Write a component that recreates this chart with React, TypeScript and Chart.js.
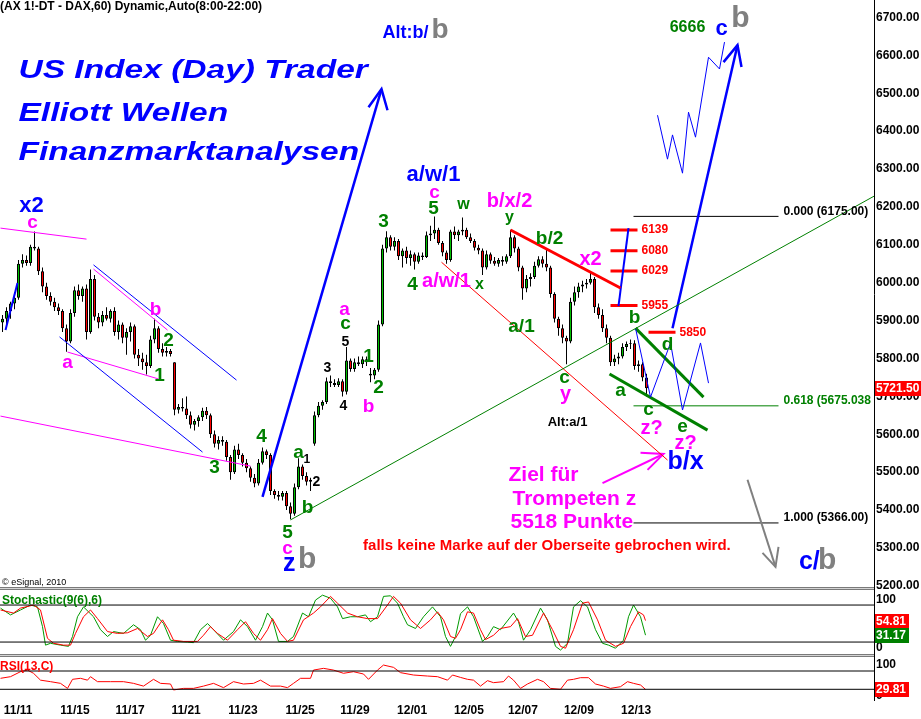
import React, { useEffect, useRef } from 'react';
import { Chart, registerables } from 'chart.js';

Chart.register(...registerables);

const FONT = '"Liberation Sans", Arial, Helvetica, sans-serif';

// ---------- price candles (one slot per candle, x = slot index + 0.5) ----------
const opens = [
  5895, 5905, 5925, 5945, 5960, 6050, 6060, 6052, 6095, 6090,
  6030, 5990, 5965, 5950, 5935, 5925, 5880, 5845, 5920, 5980,
  5965, 5985, 5870, 6010, 5910, 5895, 5915, 5905, 5925, 5870,
  5890, 5855, 5870, 5885, 5810, 5800, 5790, 5780, 5850, 5880,
  5825, 5815, 5820, 5790, 5665, 5672, 5668, 5650, 5625, 5635,
  5645, 5662, 5650, 5600, 5575, 5585, 5580, 5540, 5500, 5560,
  5545, 5525, 5510, 5485, 5470, 5525, 5555, 5545, 5450, 5440,
  5435, 5445, 5410, 5390, 5460, 5515, 5490, 5475, 5575, 5650,
  5675, 5685, 5740, 5735, 5730, 5740, 5712, 5795, 5772, 5790,
  5785, 5798, 5760, 5755, 5770, 5890, 6090, 6120, 6095, 6110,
  6070, 6085, 6065, 6075, 6055, 6072, 6068, 6125, 6130, 6140,
  6105, 6080, 6060, 6135, 6125, 6135, 6140, 6120, 6110, 6092,
  6085, 6040, 6075, 6058, 6050, 6060, 6055, 6070, 6120, 6090,
  6040, 5985, 6010, 6015, 6045, 6062, 6050, 6040, 5970, 5905,
  5880, 5855, 5845, 5950, 5975, 5990, 5995, 6000, 6010, 5935,
  5915, 5880, 5855, 5790, 5800, 5805, 5830, 5838, 5840, 5780,
  5785, 5750,
];
const highs = [
  5915, 5935, 5950, 5975, 6060, 6075, 6072, 6100, 6135, 6095,
  6040, 6000, 5975, 5960, 5945, 5930, 5890, 5930, 5990, 5995,
  5990, 5995, 6035, 6020, 5920, 5925, 5935, 5930, 5935, 5900,
  5895, 5880, 5895, 5890, 5825, 5815, 5810, 5860, 5905, 5885,
  5840, 5830, 5825, 5790, 5680, 5695, 5700, 5660, 5640, 5650,
  5670, 5672, 5655, 5610, 5595, 5595, 5585, 5545, 5570, 5575,
  5550, 5535, 5515, 5495, 5535, 5565, 5560, 5550, 5455, 5450,
  5450, 5450, 5420, 5470, 5537, 5520, 5500, 5485, 5660, 5685,
  5690, 5750, 5755, 5745, 5748, 5745, 5830, 5800, 5800, 5805,
  5805, 5805, 5775, 5775, 5900, 6100, 6136, 6125, 6120, 6115,
  6090, 6095, 6085, 6080, 6080, 6080, 6135, 6150, 6175, 6145,
  6110, 6085, 6140, 6148, 6140, 6172, 6145, 6130, 6115, 6100,
  6090, 6085, 6080, 6068, 6065, 6070, 6075, 6140, 6125, 6095,
  6045, 6020, 6025, 6055, 6070, 6070, 6090, 6045, 5975, 5910,
  5890, 5860, 5960, 5990, 6000, 6005, 6010, 6028, 6015, 5945,
  5930, 5890, 5860, 5810, 5815, 5840, 5845, 5850, 5848, 5795,
  5790, 5760,
];
const lows = [
  5870, 5890, 5905, 5930, 5955, 6040, 6045, 6045, 6085, 6020,
  5975, 5955, 5940, 5925, 5915, 5870, 5818, 5840, 5910, 5955,
  5950, 5850, 5865, 5900, 5880, 5885, 5900, 5895, 5860, 5850,
  5840, 5810, 5845, 5800, 5780, 5770, 5758, 5775, 5840, 5815,
  5805, 5805, 5805, 5650, 5655, 5660, 5640, 5615, 5610, 5620,
  5635, 5640, 5590, 5565, 5560, 5570, 5530, 5480, 5495, 5535,
  5515, 5500, 5475, 5460, 5465, 5520, 5535, 5440, 5430, 5425,
  5425, 5400, 5376, 5385, 5455, 5480, 5465, 5450, 5570, 5645,
  5665, 5680, 5725, 5725, 5725, 5700, 5705, 5765, 5765, 5780,
  5775, 5780, 5737, 5745, 5765, 5885, 6080, 6085, 6085, 6060,
  6040, 6050, 6045, 6035, 6050, 6060, 6065, 6110, 6115, 6100,
  6070, 6050, 6055, 6115, 6110, 6125, 6115, 6105, 6085, 6075,
  6020, 6035, 6050, 6045, 6042, 6045, 6050, 6065, 6080, 6030,
  5955, 5975, 5990, 6010, 6040, 6040, 6030, 5960, 5895, 5860,
  5840, 5785, 5840, 5940, 5960, 5975, 5985, 5995, 5920, 5905,
  5870, 5840, 5780, 5780, 5785, 5800, 5820, 5825, 5770, 5765,
  5740, 5700,
];
const closes = [
  5905, 5925, 5945, 5960, 6050, 6060, 6052, 6095, 6090, 6030,
  5990, 5965, 5950, 5935, 5925, 5880, 5845, 5920, 5980, 5965,
  5985, 5870, 6010, 5910, 5895, 5915, 5905, 5925, 5870, 5890,
  5855, 5870, 5885, 5810, 5800, 5790, 5780, 5850, 5880, 5825,
  5815, 5820, 5812, 5665, 5672, 5668, 5650, 5625, 5635, 5645,
  5662, 5650, 5600, 5575, 5585, 5580, 5540, 5500, 5560, 5545,
  5525, 5510, 5485, 5470, 5525, 5555, 5545, 5450, 5440, 5435,
  5445, 5410, 5390, 5460, 5515, 5490, 5475, 5480, 5650, 5675,
  5685, 5740, 5735, 5730, 5740, 5712, 5795, 5772, 5790, 5785,
  5798, 5790, 5755, 5770, 5890, 6090, 6120, 6095, 6110, 6070,
  6085, 6065, 6075, 6055, 6072, 6068, 6125, 6130, 6140, 6105,
  6080, 6060, 6135, 6125, 6135, 6140, 6120, 6110, 6092, 6085,
  6040, 6075, 6058, 6050, 6060, 6055, 6070, 6120, 6090, 6040,
  5985, 6010, 6015, 6045, 6062, 6050, 6040, 5970, 5905, 5880,
  5855, 5845, 5950, 5975, 5990, 5995, 6000, 6010, 5935, 5915,
  5880, 5855, 5790, 5800, 5805, 5830, 5838, 5840, 5780, 5785,
  5750, 5721.5,
];

// ---------- x axis (date labels, in candle-slot units) ----------
const dateLabels = ['11/11', '11/15', '11/17', '11/21', '11/23', '11/25', '11/29', '12/01', '12/05', '12/07', '12/09', '12/13'];
const dateTickPos = [4.4, 18.6, 32.4, 46.4, 60.6, 74.9, 88.6, 102.9, 117.1, 130.6, 144.6, 158.9];

// ---------- Stochastic(9(6),6) ----------
const stochKx = [0, 2.5, 5, 7.5, 9.25, 10.5, 11.25, 12.5, 15, 17, 18, 19.25, 20.75, 22, 23.25, 25, 26.75, 28.25, 30.75, 33.25, 35, 36.25, 37.5, 39.25, 40.75, 42.5, 44.25, 46.75, 48.25, 50, 51.75, 53.25, 55.75, 58.25, 60, 61.75, 63.75, 65.5, 66.75, 68, 69.5, 71.75, 73.25, 75.5, 77, 78.75, 80.5, 82.5, 84.25, 85.5, 87.5, 89.25, 91.25, 92.5, 94.25, 95.75, 97.5, 99.25, 100.75, 101.75, 103.75, 105.75, 108, 110, 111.25, 112.5, 113.75, 115, 116.75, 118.25, 120.5, 121.75, 123.25, 125, 128.25, 129.5, 130.75, 132.5, 135, 136.75, 138.75, 140, 141.75, 143.25, 145, 146.75, 148.75, 150.5, 152, 153.75, 155.75, 157, 158.25, 160, 161.25];
const stochK = [75, 64, 72, 80, 77, 45, 15, 18, 15, 13, 29, 61, 77, 69, 61, 40, 29, 37, 34, 48, 40, 23, 31, 61, 50, 23, 21, 20, 19, 40, 50, 40, 23, 37, 56, 45, 23, 45, 67, 56, 21, 21, 29, 67, 61, 88, 96, 91, 77, 58, 61, 61, 64, 53, 61, 94, 95, 83, 61, 48, 42, 61, 77, 61, 29, 13, 29, 66, 77, 61, 21, 29, 45, 40, 67, 53, 23, 40, 75, 56, 13, 7, 18, 77, 87, 77, 40, 18, 15, 10, 23, 61, 80, 61, 31.17];
const stochDx = [0, 3.25, 5, 8.25, 10, 11.75, 13.25, 15.75, 17.5, 18.75, 20.75, 22.5, 24.25, 26.75, 29.25, 31.75, 34.25, 36.75, 38.25, 40.5, 42, 43.25, 45.75, 49.25, 50.75, 52.5, 54.25, 56.75, 59.25, 61.25, 63.25, 65, 66.75, 68, 70, 71.75, 73.25, 75.75, 78.25, 80, 82.5, 84.25, 86.75, 89.25, 91.75, 94.25, 96.75, 98.25, 100, 102.5, 105, 107.5, 109.25, 110.75, 112.5, 113.75, 115, 116.75, 118.25, 120, 121.25, 123.25, 125, 127.5, 129.25, 131.25, 133, 135.75, 138, 140, 141.25, 143.25, 145.5, 147, 149.25, 151.25, 153.75, 155.75, 157.5, 159.5, 160.75, 161.25];
const stochD = [72, 67, 75, 80, 72, 26, 18, 15, 15, 34, 61, 72, 58, 37, 34, 35, 42, 29, 34, 56, 40, 23, 21, 21, 31, 45, 34, 23, 40, 53, 34, 23, 40, 58, 34, 21, 23, 56, 67, 77, 94, 83, 67, 61, 58, 58, 80, 94, 83, 56, 42, 56, 69, 56, 29, 26, 40, 69, 67, 40, 24, 31, 42, 45, 58, 29, 31, 67, 40, 13, 10, 40, 83, 85, 56, 23, 13, 18, 45, 69, 64, 54.81];
const stochLevels = [80, 20];
const stochTicks = [0, 100];

// ---------- RSI(13,C) ----------
const rsiX = [0, 2.5, 5, 6.75, 8.25, 10, 12.5, 15, 16.75, 18, 20, 21.75, 22.5, 24.25, 27.5, 30.75, 33.25, 35.75, 38.25, 40, 42.5, 43.25, 45.75, 48.25, 50.75, 53.25, 55.75, 58.25, 60.75, 63.25, 65, 67.5, 70, 71.75, 73.25, 75, 77.5, 78.25, 80.75, 83.25, 85.75, 88.25, 90.75, 92, 94.25, 95.75, 98.25, 100, 103.25, 106.75, 109.25, 111.75, 113, 115, 116.75, 118.25, 120, 121.75, 123.25, 125.75, 127, 128.25, 130, 131.75, 134.25, 135.75, 137.5, 140, 141.75, 143.25, 145, 147, 148.75, 150.75, 152.5, 155, 156.75, 158.25, 160, 161.25];
const rsiVals = [54, 57.6, 68.5, 72, 65, 50, 46.7, 43, 32, 51.8, 54, 50, 57.6, 46.7, 46.7, 46.7, 43, 37, 51.8, 43, 41.6, 28.5, 32, 32, 37, 43, 33.6, 46.7, 41.6, 43, 50, 37, 37, 33.6, 43, 54, 54, 72, 75.8, 72, 65, 68.5, 63.4, 51.8, 72, 83, 78, 66.4, 61.2, 59, 57.6, 50, 61.2, 56, 51.8, 50, 37, 48.9, 44.5, 46.7, 59, 50, 32, 41.6, 51.8, 46.7, 32, 30, 50, 51.8, 55.4, 55.4, 41.6, 37, 32, 35.7, 46.7, 43, 39.4, 29.81];
const rsiLevels = [70, 30];
const rsiTicks = [0, 100];

// ---------- analysis overlays (data coordinates: slot, price) ----------
const guideLines: { pts: number[][]; style: string }[] = [
  { pts: [[0, 6144], [21.5, 6115]], style: 'mag1' },
  { pts: [[23.25, 6047], [59, 5743]], style: 'blue1' },
  { pts: [[14.75, 5857], [50.5, 5553]], style: 'blue1' },
  { pts: [[23.25, 6036], [41.75, 5875]], style: 'mag1' },
  { pts: [[16.75, 5817], [39.5, 5746]], style: 'mag1' },
  { pts: [[0, 5648], [62.5, 5516]], style: 'mag1' },
  { pts: [[1.25, 5875], [4.25, 5999]], style: 'blue2' },
  { pts: [[65.5, 5435], [95.25, 6511]], style: 'blue3' },
  { pts: [[92, 6463], [95.25, 6511], [96.75, 6455]], style: 'blue3' },
  { pts: [[72.5, 5374], [218.5, 6229]], style: 'green1' },
  { pts: [[110.25, 6054], [166.75, 5532]], style: 'red1' },
  { pts: [[127.5, 6139], [155, 5986]], style: 'red3' },
  { pts: [[154.5, 5938], [157, 6144]], style: 'blue2' },
  { pts: [[168, 5880], [184.25, 6627]], style: 'blue3' },
  { pts: [[180.75, 6582], [184.25, 6627], [185.25, 6569]], style: 'blue3' },
  { pts: [[164.25, 6442], [166.75, 6326], [168, 6390], [170.5, 6289], [172, 6450], [173.75, 6384], [177, 6595], [179.75, 6564], [181, 6635]], style: 'blue1' },
  { pts: [[158.75, 5880], [162.5, 5698], [167.5, 5841], [170.5, 5664], [175, 5841], [177, 5735]], style: 'blue1' },
  { pts: [[158.75, 5880], [175.75, 5698]], style: 'green3' },
  { pts: [[152.25, 5759], [176.75, 5611]], style: 'green3' },
  { pts: [[150.5, 5471], [165.75, 5548]], style: 'mag2' },
  { pts: [[160, 5551], [165.75, 5548], [161.75, 5506]], style: 'mag2' },
  { pts: [[186.75, 5480], [193.75, 5250]], style: 'gray2' },
  { pts: [[190.5, 5287], [193.75, 5250], [194.5, 5303]], style: 'gray2' },
];

const levelPrices = [6139, 6084, 6031, 5940, 5869];
const levelTexts = ['6139', '6080', '6029', '5955', '5850'];
const levelStart = [152.5, 152.5, 152.5, 152.5, 162];
const levelEnd = [159.25, 159.25, 159.25, 159.25, 168.75];

const fibPrices = [6175, 5675.038, 5366];
const fibTexts = ['0.000 (6175.00)', '0.618 (5675.038', '1.000 (5366.00)'];
const fibStyles = ['k12', 'g12', 'k12'];
const fibStart = 158.25;
const fibEnd = 194.5;

const waveLabels: [string, number, number, string, string?][] = [
  ['x2', 7.75, 6202, 'B'], ['c', 8, 6157, 'm'], ['a', 16.75, 5788, 'm'],
  ['b', 38.75, 5928, 'm'], ['2', 42, 5846, 'g'], ['1', 39.75, 5754, 'g'],
  ['3', 53.5, 5511, 'g'], ['4', 65.25, 5593, 'g'], ['a', 74.5, 5551, 'g'],
  ['1', 76.6, 5532, 'ks'], ['2', 79, 5474, 'k'], ['b', 76.75, 5406, 'g'],
  ['5', 71.75, 5340, 'g'], ['c', 71.75, 5297, 'm'], ['3', 81.75, 5775, 'k'],
  ['4', 85.75, 5675, 'k'], ['5', 86.25, 5843, 'k'], ['c', 86.25, 5891, 'g'],
  ['a', 86, 5928, 'm'], ['1', 92, 5804, 'g'], ['2', 94.5, 5722, 'g'],
  ['b', 92, 5672, 'm'], ['3', 95.75, 6160, 'g'], ['4', 103, 5994, 'g'],
  ['5', 108.25, 6194, 'g'], ['c', 108.5, 6236, 'm'], ['a/w/1', 108.25, 6284, 'B'],
  ['w', 115.75, 6205, 'gs'], ['b/x/2', 127.25, 6215, 'mL'], ['y', 127.25, 6173, 'gs'],
  ['a/w/1', 111.5, 6004, 'mL'], ['x', 119.75, 5994, 'gs'], ['b/2', 137.25, 6115, 'g'],
  ['a/1', 130.25, 5883, 'g'], ['x2', 147.5, 6062, 'mL'], ['c', 141, 5748, 'g'],
  ['y', 141.25, 5706, 'mL'], ['Alt:a/1', 141.75, 5630, 'kA'], ['b', 158.5, 5907, 'g'],
  ['d', 166.75, 5836, 'g'], ['a', 155, 5714, 'g'], ['c', 162, 5664, 'g'],
  ['e', 170.5, 5619, 'g'], ['z?', 162.75, 5614, 'mL'], ['z?', 171.25, 5577, 'mL'],
  ['b/x', 171.25, 5527, 'BX'], ['6666', 171.75, 6674, 'g16'], ['c', 180.25, 6669, 'B'],
  ['b', 185, 6696, 'G'],
  ['Alt:b/', 95.5, 6659, 'B18', 'left'], ['b', 107.75, 6667, 'G28', 'left'],
  ['z', 70.6, 5258, 'BX', 'left'], ['b', 74.4, 5268, 'G', 'left'],
  ['c/', 199.6, 5263, 'BX', 'left'], ['b', 204.4, 5266, 'G', 'left'],
  ['Ziel für', 127, 5493, 'M21', 'left'], ['Trompeten z', 128, 5429, 'M21', 'left'],
  ['5518 Punkte', 127.5, 5369, 'M21', 'left'],
  ['falls keine Marke auf der Oberseite gebrochen wird.', 136.6, 5305, 'R15'],
];

const titleLines = ['US Index (Day) Trader', 'Elliott Wellen', 'Finanzmarktanalysen'];
const titlePrices = [6558, 6445, 6342];
const titleSlot = 4.5;
const headerText = '(AX 1!-DT - DAX,60) Dynamic,Auto(8:00-22:00)';

const LINE_STYLES: Record<string, [string, number]> = {
  mag1: ['#FF00FF', 1], mag2: ['#FF00FF', 2], blue1: ['#0000FF', 1], blue2: ['#0000FF', 2],
  blue3: ['#0000FF', 2.5], green1: ['#008000', 1], green3: ['#008000', 3], red1: ['#FF0000', 1],
  red3: ['#FF0000', 3], gray2: ['#808080', 2],
};
const TEXT_STYLES: Record<string, [string, string]> = {
  g: ['#008000', 'bold 19px'], gs: ['#008000', 'bold 16px'], g16: ['#008000', 'bold 16px'],
  m: ['#FF00FF', 'bold 19px'], mL: ['#FF00FF', 'bold 20px'], k: ['#000000', 'bold 14px'],
  ks: ['#000000', 'bold 12px'], kA: ['#000000', 'bold 13px'], B: ['#0000FF', 'bold 22px'],
  B18: ['#0000FF', 'bold 18px'], BX: ['#0000FF', 'bold 25px'], G: ['#808080', 'bold 30px'],
  G28: ['#808080', 'bold 28px'], M21: ['#FF00FF', 'bold 21px'], R15: ['#FF0000', 'bold 15px'],
  k12: ['#000000', 'bold 12px'], g12: ['#008000', 'bold 12px'], r12: ['#FF0000', 'bold 12px'],
};

const UP = '#00C000';
const DOWN = '#FF0000';
const K_COLOR = '#009900';
const tickFont = { family: FONT, size: 12, weight: 'bold' as const };

function drawText(ctx: any, text: string, x: number, y: number, styleKey: string, align = 'center', baseline = 'middle') {
  const [color, font] = TEXT_STYLES[styleKey];
  ctx.save();
  ctx.fillStyle = color;
  ctx.font = `${font} ${FONT}`;
  ctx.textAlign = align;
  ctx.textBaseline = baseline;
  ctx.fillText(text, x, y);
  ctx.restore();
}

const overlayPlugin = {
  id: 'overlay',
  afterDatasetsDraw(chart: any) {
    const { ctx, scales, chartArea } = chart;
    const xs = scales.x, yp = scales.yPrice, ys = scales.yStoch, yr = scales.yRsi;
    const X = (v: number) => xs.getPixelForValue(v);
    const Y = (v: number) => yp.getPixelForValue(v);

    // panel separators
    ctx.save();
    for (const top of [ys.top, yr.top]) {
      const t = Math.round(top);
      ctx.fillStyle = '#7a7a7a';
      ctx.fillRect(chartArea.left, t - 2, chartArea.right - chartArea.left, 1);
      ctx.fillStyle = '#d4d4d4';
      ctx.fillRect(chartArea.left, t - 1, chartArea.right - chartArea.left, 1);
      ctx.fillStyle = '#7a7a7a';
      ctx.fillRect(chartArea.left, t, chartArea.right - chartArea.left, 1);
    }
    ctx.restore();

    // header + panel titles
    ctx.save();
    ctx.fillStyle = '#000';
    ctx.font = `bold 12px ${FONT}`;
    ctx.textAlign = 'left';
    ctx.textBaseline = 'middle';
    ctx.fillText(headerText, chartArea.left, chartArea.top + 7);
    ctx.font = `9px ${FONT}`;
    ctx.fillText('© eSignal, 2010', chartArea.left + 2, yp.bottom - 6);
    ctx.font = `bold 12px ${FONT}`;
    ctx.fillStyle = '#008000';
    ctx.fillText('Stochastic(9(6),6)', chartArea.left + 2, ys.top + 12);
    ctx.fillStyle = '#FF0000';
    ctx.fillText('RSI(13,C)', chartArea.left, yr.top + 11);
    ctx.restore();

    // title block
    ctx.save();
    ctx.fillStyle = '#0000FF';
    ctx.font = `italic bold 25px ${FONT}`;
    ctx.textAlign = 'left';
    ctx.textBaseline = 'middle';
    titleLines.forEach((t, i) => {
      ctx.save();
      ctx.translate(X(titleSlot), Y(titlePrices[i]));
      ctx.scale(1.34, 1);
      ctx.fillText(t, 0, 0);
      ctx.restore();
    });
    ctx.restore();

    // level labels
    levelTexts.forEach((t, i) => drawText(ctx, t, X(levelEnd[i] + 1), Y(levelPrices[i]), 'r12', 'left'));
    fibTexts.forEach((t, i) => drawText(ctx, t, X(fibEnd + 1.25), Y(fibPrices[i]) + 1, fibStyles[i], 'left', 'bottom'));

    // wave labels
    for (const [text, x, p, st, al] of waveLabels) {
      drawText(ctx, text, X(x), Y(p), st, al || 'center');
    }
  },
  afterDraw(chart: any) {
    const { ctx, scales } = chart;
    const box = (scale: any, value: number, bg: string) => {
      const text = value.toFixed(2);
      const y = Math.round(scale.getPixelForValue(value));
      ctx.save();
      ctx.font = `bold 12px ${FONT}`;
      const w = Math.ceil(ctx.measureText(text).width) + 3;
      ctx.fillStyle = bg;
      ctx.fillRect(scale.left + 1, y - 7, w, 15);
      ctx.fillStyle = '#fff';
      ctx.textAlign = 'left';
      ctx.textBaseline = 'middle';
      ctx.fillText(text, scale.left + 2, y + 1);
      ctx.restore();
    };
    box(scales.yPrice, closes[closes.length - 1], '#FF0000');
    box(scales.yStoch, stochD[stochD.length - 1], '#FF0000');
    box(scales.yStoch, stochK[stochK.length - 1], '#008000');
    box(scales.yRsi, rsiVals[rsiVals.length - 1], '#FF0000');
  },
};

function lineDataset(pts: number[][], color: string, width: number, axis: string) {
  return {
    type: 'line',
    data: pts.map(([x, y]) => ({ x, y })),
    borderColor: color,
    borderWidth: width,
    pointRadius: 0,
    tension: 0,
    fill: false,
    yAxisID: axis,
    order: 0,
  };
}

function buildConfig(): any {
  const slots = closes.map((_, i) => i + 0.5);
  const wickData = slots.map((x, i) => ({ x, y: [lows[i], highs[i]] }));
  const bodyData = slots.map((x, i) => ({ x, y: [opens[i], closes[i]] }));
  const bodyColors = closes.map((c, i) => (c >= opens[i] ? UP : DOWN));
  const xMin = -0.125;
  const xMax = 218.375;

  const datasets: any[] = [
    {
      type: 'bar', data: wickData, backgroundColor: '#000', borderWidth: 0, barThickness: 1,
      grouped: false, inflateAmount: 0, yAxisID: 'yPrice', order: 20,
    },
    {
      type: 'bar', data: bodyData, backgroundColor: bodyColors, borderColor: '#000', borderWidth: 1,
      borderSkipped: false, barThickness: 3, grouped: false, inflateAmount: 0, yAxisID: 'yPrice', order: 19,
    },
  ];
  guideLines.forEach((g) => {
    const [c, w] = LINE_STYLES[g.style];
    datasets.push(lineDataset(g.pts, c, w, 'yPrice'));
  });
  levelPrices.forEach((p, i) => datasets.push(lineDataset([[levelStart[i], p], [levelEnd[i], p]], '#FF0000', 3, 'yPrice')));
  fibPrices.forEach((p, i) => datasets.push(lineDataset([[fibStart, p], [fibEnd, p]], fibStyles[i] === 'g12' ? '#008000' : '#000000', 1, 'yPrice')));
  stochLevels.forEach((v) => datasets.push(lineDataset([[xMin, v], [xMax, v]], '#000', 1, 'yStoch')));
  datasets.push(lineDataset(stochDx.map((x, i) => [x, stochD[i]]), '#FF0000', 1, 'yStoch'));
  datasets.push(lineDataset(stochKx.map((x, i) => [x, stochK[i]]), K_COLOR, 1, 'yStoch'));
  rsiLevels.forEach((v) => datasets.push(lineDataset([[xMin, v], [xMax, v]], '#000', 1, 'yRsi')));
  datasets.push(lineDataset(rsiX.map((x, i) => [x, rsiVals[i]]), '#FF0000', 1, 'yRsi'));

  const vFit = (s: any) => { s.width = 47; s.paddingTop = 0; s.paddingBottom = 0; };
  const vCommon = {
    position: 'right', stack: 'panels', beginAtZero: false,
    grid: { display: false, drawTicks: false },
    border: { display: true, color: '#000', width: 1 },
    afterFit: vFit,
  };
  const edgeLabel = (v: any) => (Number(v) >= 100 ? ['', '100'] : ['0', '']);

  return {
    type: 'bar',
    data: { datasets },
    options: {
      responsive: false,
      animation: false,
      devicePixelRatio: 1,
      events: [],
      layout: { padding: 0 },
      plugins: { legend: { display: false }, tooltip: { enabled: false }, title: { display: false } },
      scales: {
        x: {
          type: 'linear', position: 'bottom', min: xMin, max: xMax, offset: false,
          grid: { display: false, drawTicks: false, offset: false },
          border: { display: false },
          ticks: {
            autoSkip: false, maxRotation: 0, padding: 3, color: '#000', font: tickFont,
            callback: (_v: any, i: number) => dateLabels[i] ?? '',
          },
          afterBuildTicks: (s: any) => { s.ticks = dateTickPos.map((v) => ({ value: v })); },
          afterFit: (s: any) => { s.height = 19; s.paddingLeft = 0; s.paddingRight = 0; },
        },
        yPrice: {
          ...vCommon, type: 'linear', stackWeight: 588.5, min: 5193, max: 6746,
          ticks: {
            stepSize: 100, includeBounds: false, autoSkip: false, padding: 2, color: '#000', font: tickFont,
            callback: (v: any) => Number(v).toFixed(2),
          },
        },
        yStoch: {
          ...vCommon, type: 'linear', stackWeight: 67, min: -1.8, max: 106.8,
          afterBuildTicks: (s: any) => { s.ticks = stochTicks.map((v) => ({ value: v })); },
          ticks: { autoSkip: false, padding: 2, color: '#000', font: tickFont, callback: edgeLabel },
        },
        yRsi: {
          ...vCommon, type: 'linear', stackWeight: 44.5, min: 6.6, max: 103.9,
          afterBuildTicks: (s: any) => { s.ticks = rsiTicks.map((v) => ({ value: v })); },
          ticks: { autoSkip: false, padding: 2, color: '#000', font: tickFont, callback: edgeLabel },
        },
      },
    },
    plugins: [overlayPlugin],
  };
}

export default function App() {
  const ref = useRef<HTMLCanvasElement>(null);
  useEffect(() => {
    const chart = new Chart(ref.current as HTMLCanvasElement, buildConfig());
    return () => chart.destroy();
  }, []);
  return (
    <div style={{ position: 'absolute', left: 0, top: 0, width: 921, height: 719, background: '#fff' }}>
      <canvas ref={ref} width={921} height={719} style={{ display: 'block' }} />
    </div>
  );
}
